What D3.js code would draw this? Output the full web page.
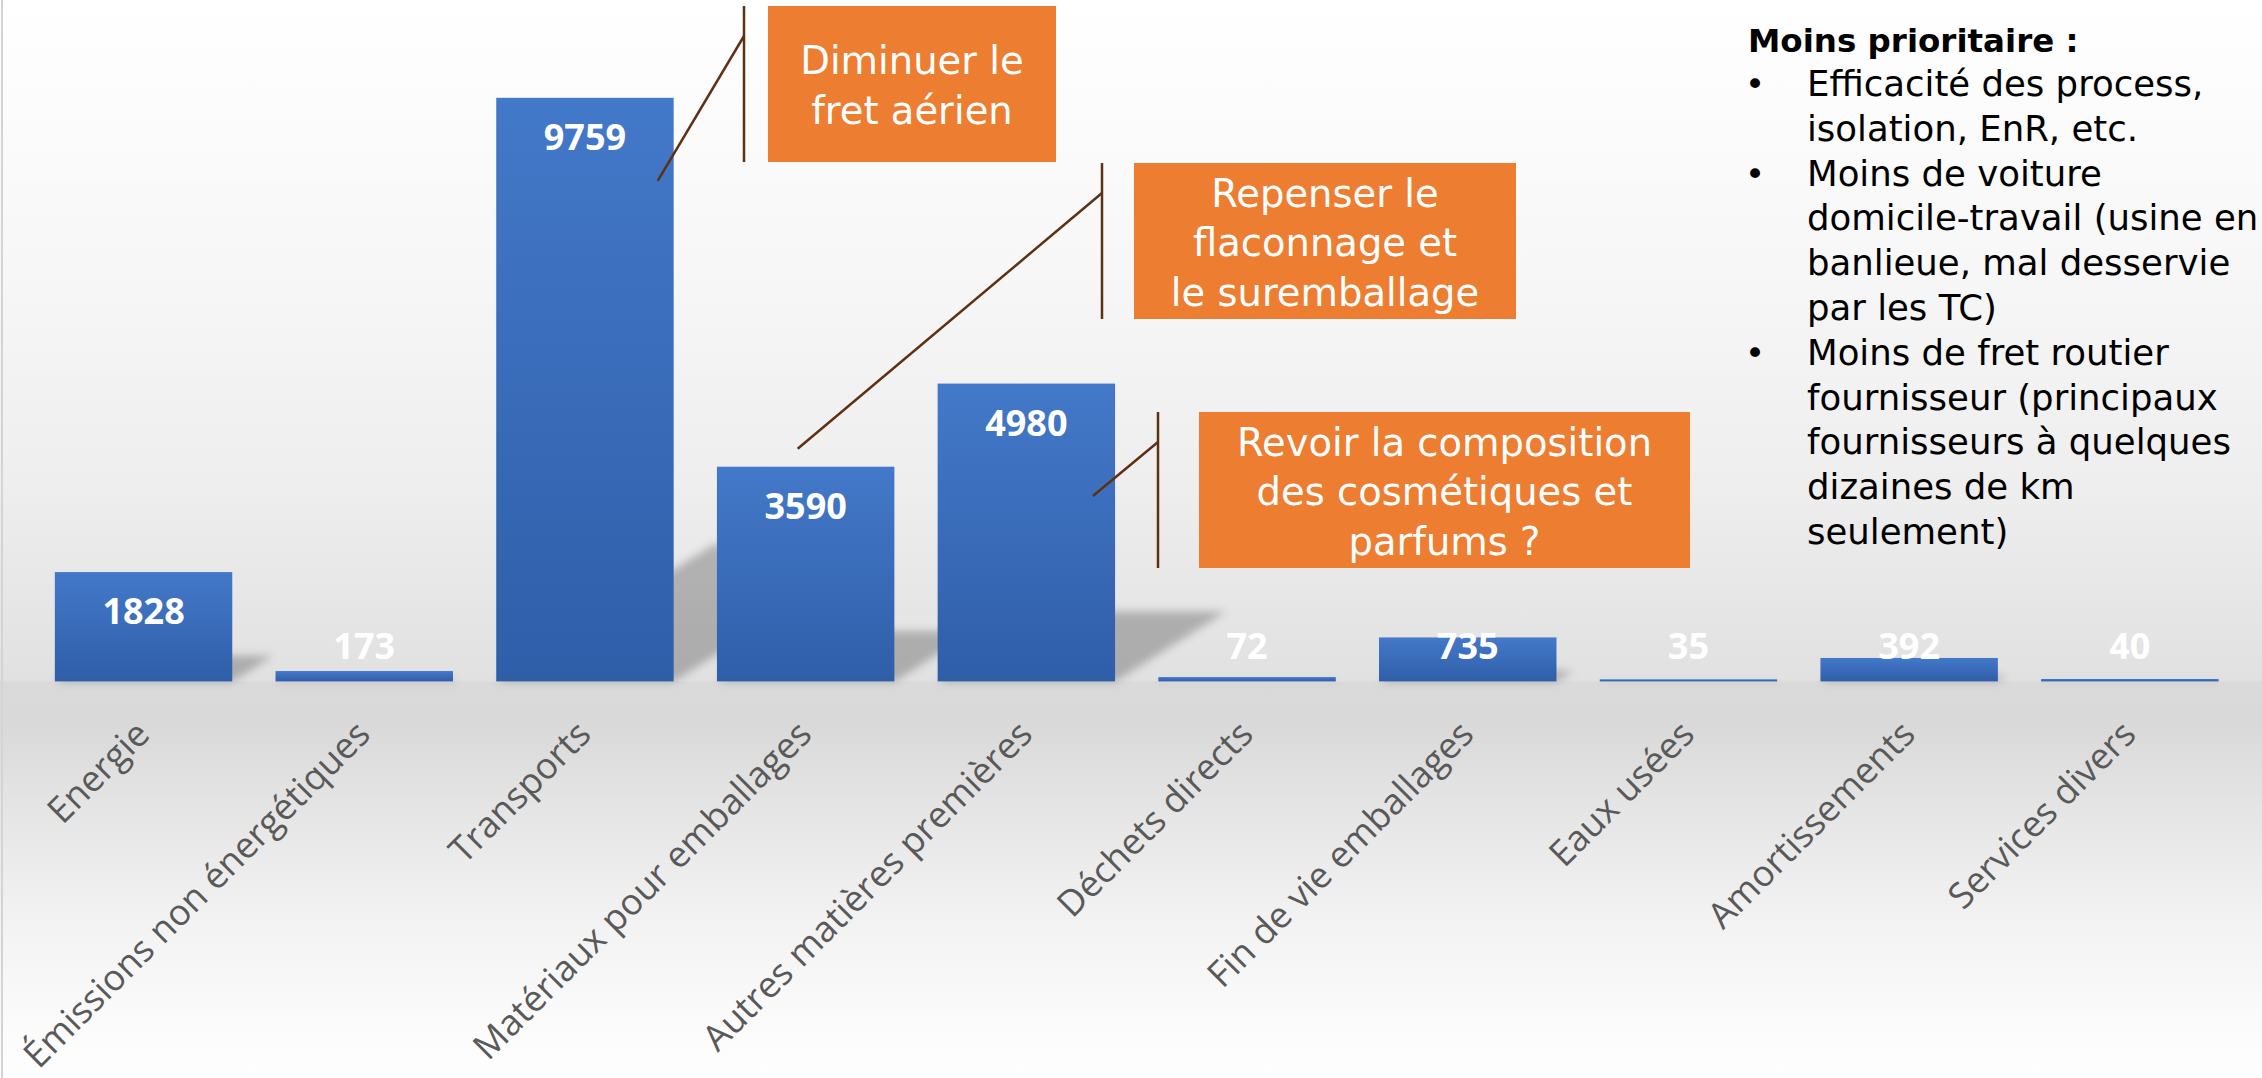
<!DOCTYPE html>
<html>
<head>
<meta charset="utf-8">
<script src="https://cdn.jsdelivr.net/npm/d3@7"></script>
<style>
  html, body { margin: 0; padding: 0; background: #fff; }
  svg { display: block; }
</style>
</head>
<body>
<div id="chart"></div>
<script>
// data
const categories = [
  'Energie', 'Émissions non énergétiques', 'Transports', 'Matériaux pour emballages',
  'Autres matières premières', 'Déchets directs', 'Fin de vie emballages', 'Eaux usées',
  'Amortissements', 'Services divers',
];
const values = [1828, 173, 9759, 3590, 4980, 72, 735, 35, 392, 40];

const calloutTexts = [
  ['Diminuer le', 'fret aérien'],
  ['Repenser le', 'flaconnage et', 'le suremballage'],
  ['Revoir la composition', 'des cosmétiques et', 'parfums ?'],
];
// where each leader line touches the chart (category, position in band, value)
const calloutTargets = [
  { cat: 'Transports', at: 0.91, value: 8370 },
  { cat: 'Matériaux pour emballages', at: 0.455, value: 3890 },
  { cat: 'Autres matières premières', at: 0.875, value: 3100 },
];

const notesTitle = 'Moins prioritaire :';
const notes = [
  ['Efficacité des process,', 'isolation, EnR, etc.'],
  ['Moins de voiture', 'domicile-travail (usine en', 'banlieue, mal desservie', 'par les TC)'],
  ['Moins de fret routier', 'fournisseur (principaux', 'fournisseurs à quelques', 'dizaines de km', 'seulement)'],
];

// layout
const W = 2262;
const H = 1078;
const baseY = 681.4;
const boxes = [
  { x: 768, y: 6, w: 288, h: 156, stem: 744, elbow: 36 },
  { x: 1134, y: 163, w: 382, h: 156, stem: 1102, elbow: 193 },
  { x: 1199, y: 412, w: 491, h: 156, stem: 1158, elbow: 442 },
];
const boxFont = 'DejaVu Sans, sans-serif';

const svg = d3.select('#chart').append('svg')
  .attr('width', W)
  .attr('height', H);

const defs = svg.append('defs');

// background: wall fading to grey, then floor fading back to white
const bg = defs.append('linearGradient')
  .attr('id', 'bg')
  .attr('x1', 0).attr('y1', 0).attr('x2', 0).attr('y2', 1);
[
  [0, '#ffffff'], [0.25, '#f7f7f7'], [0.45, '#eeeeee'], [0.631, '#e1e1e1'],
  [0.633, '#dadada'], [0.67, '#d9d9d9'], [0.75, '#e5e5e5'], [0.85, '#f2f2f2'],
  [0.95, '#fbfbfb'], [1, '#fefefe'],
].forEach(([o, c]) => bg.append('stop').attr('offset', o).attr('stop-color', c));

const barGrad = defs.append('linearGradient')
  .attr('id', 'barGrad')
  .attr('x1', 0).attr('y1', 0).attr('x2', 0).attr('y2', 1);
barGrad.append('stop').attr('offset', 0).attr('stop-color', '#4379c9');
barGrad.append('stop').attr('offset', 1).attr('stop-color', '#2f5ea9');

defs.append('filter')
  .attr('id', 'blur')
  .attr('x', '-20%').attr('y', '-20%').attr('width', '140%').attr('height', '140%')
  .append('feGaussianBlur')
  .attr('stdDeviation', 4);

svg.append('rect')
  .attr('width', W)
  .attr('height', H)
  .attr('fill', 'url(#bg)');

svg.append('line')
  .attr('x1', 2).attr('x2', 2)
  .attr('y1', 0).attr('y2', H)
  .attr('stroke', '#d4d4d4')
  .attr('stroke-width', 2);

// scales
const x = d3.scaleBand()
  .domain(categories)
  .range([33.2, 2240.2])
  .paddingInner(0.196)
  .paddingOuter(0.098);

const y = d3.scaleLinear()
  .domain([0, 11000])
  .range([baseY, baseY - 11000 * (583.6 / 9759)]);

const data = categories.map((c, i) => ({ cat: c, value: values[i] }));

// perspective shadows behind the bars
const slope = 0.63;
svg.append('g')
  .attr('filter', 'url(#blur)')
  .selectAll('path')
  .data(data)
  .join('path')
  .attr('fill', '#000')
  .attr('fill-opacity', 0.24)
  .attr('d', (d) => {
    const x0 = x(d.cat);
    const x1 = x0 + x.bandwidth();
    const k = 0.235 * (y(0) - y(d.value));
    const s = k / slope;
    return `M${x0},${y(0)}L${x1},${y(0)}L${x1 + s},${y(0) - k}L${x0 + s},${y(0) - k}Z`;
  });

// bars
svg.append('g')
  .selectAll('rect')
  .data(data)
  .join('rect')
  .attr('x', (d) => x(d.cat))
  .attr('y', (d) => y(d.value))
  .attr('width', x.bandwidth())
  .attr('height', (d) => y(0) - y(d.value))
  .attr('fill', 'url(#barGrad)');

// value labels
svg.append('g')
  .selectAll('text')
  .data(data)
  .join('text')
  .attr('x', (d) => x(d.cat) + x.bandwidth() / 2)
  .attr('y', (d) => Math.min(y(d.value) + 52, 659))
  .attr('text-anchor', 'middle')
  .attr('font-family', 'Open Sans, sans-serif')
  .attr('font-weight', 700)
  .attr('font-size', 36)
  .attr('fill', '#ffffff')
  .text((d) => d.value);

// category axis
const xAxis = svg.append('g')
  .attr('transform', `translate(0, ${baseY})`)
  .call(d3.axisBottom(x).tickSize(0).tickPadding(0));
xAxis.select('.domain').remove();
xAxis.selectAll('text')
  .attr('font-family', 'Open Sans, sans-serif')
  .attr('font-size', 36)
  .attr('fill', '#595959')
  .attr('text-anchor', 'end')
  .attr('dy', null)
  .attr('y', 0)
  .attr('transform', 'translate(8, 55) rotate(-45)');

// callouts
const call = svg.append('g');
boxes.forEach((b, i) => {
  const t = calloutTargets[i];
  const tx = x(t.cat) + t.at * x.bandwidth();
  const ty = y(t.value);
  call.append('line')
    .attr('x1', tx).attr('y1', ty)
    .attr('x2', b.stem).attr('y2', b.elbow)
    .attr('stroke', '#5e3112')
    .attr('stroke-width', 2.5);
  call.append('line')
    .attr('x1', b.stem).attr('y1', b.y)
    .attr('x2', b.stem).attr('y2', b.y + b.h)
    .attr('stroke', '#5e3112')
    .attr('stroke-width', 2.5);
  call.append('rect')
    .attr('x', b.x).attr('y', b.y)
    .attr('width', b.w).attr('height', b.h)
    .attr('fill', '#ed7d31');
  const lines = calloutTexts[i];
  call.append('g')
    .selectAll('text')
    .data(lines)
    .join('text')
    .attr('x', b.x + b.w / 2)
    .attr('y', (d, j) => b.y + b.h / 2 + (j - (lines.length - 1) / 2) * 49.5 + 15)
    .attr('text-anchor', 'middle')
    .attr('font-family', boxFont)
    .attr('font-size', 38.5)
    .attr('fill', '#ffffff')
    .text((d) => d);
});

// notes on the right
const notesG = svg.append('g');
notesG.append('text')
  .attr('x', 1748)
  .attr('y', 52)
  .attr('font-family', boxFont)
  .attr('font-weight', 700)
  .attr('font-size', 32.5)
  .attr('fill', '#000')
  .text(notesTitle);

let row = 0;
notes.forEach((item) => {
  item.forEach((line, j) => {
    const ly = 96 + row * 44.8;
    if (j === 0) {
      notesG.append('text')
        .attr('x', 1745)
        .attr('y', ly)
        .attr('font-family', boxFont)
        .attr('font-size', 34)
        .attr('fill', '#000')
        .text('•');
    }
    notesG.append('text')
      .attr('x', 1807)
      .attr('y', ly)
      .attr('font-family', boxFont)
      .attr('font-size', 35.5)
      .attr('fill', '#000')
      .text(line);
    row += 1;
  });
});
</script>
</body>
</html>
